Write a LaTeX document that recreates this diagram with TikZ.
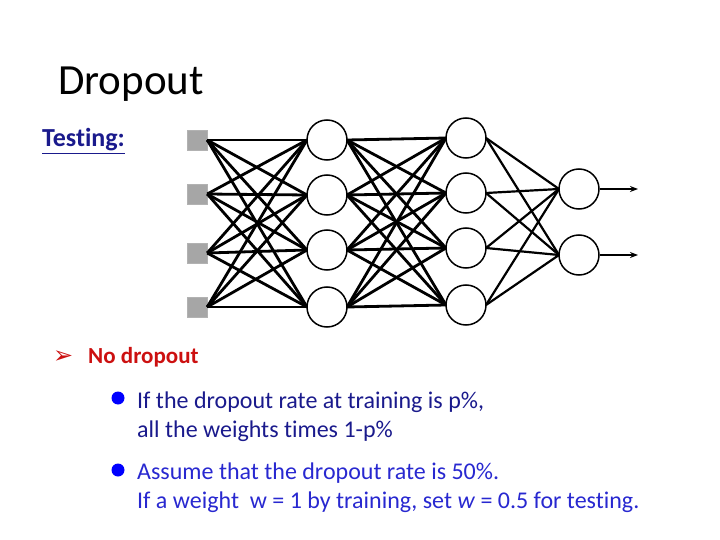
\documentclass[tikz,border=0pt]{standalone}
\usepackage{fontspec}
\setmainfont[Ligatures={NoCommon,NoRare}]{Carlito}
\newfontfamily\djv{DejaVu Sans}
\usetikzlibrary{arrows.meta,calc}
\definecolor{navyt}{HTML}{1A1A8C}
\definecolor{bluet}{HTML}{2828D0}
\definecolor{redt}{HTML}{CC1010}
\begin{document}
\begin{tikzpicture}[x=1pt,y=-1pt,
  inp/.style={fill=gray!70,draw=gray!60,minimum size=20pt,inner sep=0pt},
  neu/.style={circle,draw,line width=1.5pt,minimum size=40pt,inner sep=0pt,fill=white},
  edge/.style={line width=2.8pt},
  txt/.style={anchor=base west,inner sep=0,font=\fontsize{24}{28}\selectfont}]
\useasboundingbox (0,0) rectangle (720,540);
\node[anchor=base west,font=\fontsize{43}{48}\selectfont,inner sep=0] (title) at (58,95) {Dropout};
\node[anchor=base west,font=\bfseries\fontsize{26}{30}\selectfont,text=navyt,inner sep=0] (test) at (42,147) {\underline{Testing:}};
\foreach \i/\y in {1/140,2/194,3/253,4/307}{\node[inp] (a\i) at (197,\y) {};}
\foreach \i/\y in {1/140,2/195,3/250,4/307}{\coordinate (bc\i) at (327,\y);}
\foreach \i/\y in {1/138,2/193,3/248,4/305}{\coordinate (cc\i) at (466,\y);}
\coordinate (dc1) at (579,189); \coordinate (dc2) at (579,255);
\foreach \i in {1,...,4}{\foreach \j in {1,...,4}{
  \draw[edge] (a\i.east) -- ($(bc\j)+(-20,0)$);
  \draw[edge] ($(bc\i)+(20,0)$) -- ($(cc\j)+(-20,0)$);}}
\foreach \i in {1,...,4}{\foreach \j in {1,2}{
  \draw[line width=2.2pt] ($(cc\i)+(20,0)$) -- ($(dc\j)+(-20,0)$);}}
\foreach \i in {1,...,4}{\node[neu] (b\i) at (bc\i) {}; \node[neu] (c\i) at (cc\i) {};}
\node[neu] (d1) at (dc1) {}; \node[neu] (d2) at (dc2) {};
\coordinate (o1) at (638,189); \coordinate (o2) at (638,255);
\draw[line width=2pt,-{Stealth[length=8pt]}] (d1.east) -- (o1);
\draw[line width=2pt,-{Stealth[length=8pt]}] (d2.east) -- (o2);
\node[anchor=base west,text=redt,font=\djv\fontsize{24}{26}\selectfont,inner sep=0] (arr) at (53,363) {➢};
\node[anchor=base west,text=redt,font=\bfseries\fontsize{23}{26}\selectfont,inner sep=0] (nd) at (88,363) {No dropout};
\fill[blue] (118,398) circle (6.5pt);
\fill[blue] (118,470) circle (6.5pt);
\node[txt,text=navyt] (t1) at (137,408) {If the dropout rate at training is p\%,};
\node[txt,text=navyt] (t1b) at (137,437) {all the weights times 1-p\%};
\node[txt,text=bluet] (t2) at (137,479) {Assume that the dropout rate is 50\%.};
\node[txt,text=bluet] (t2b) at (137,508) {If a weight\ \ w = 1 by training, set \textit{w} = 0.5 for testing.};
\end{tikzpicture}
\end{document}
